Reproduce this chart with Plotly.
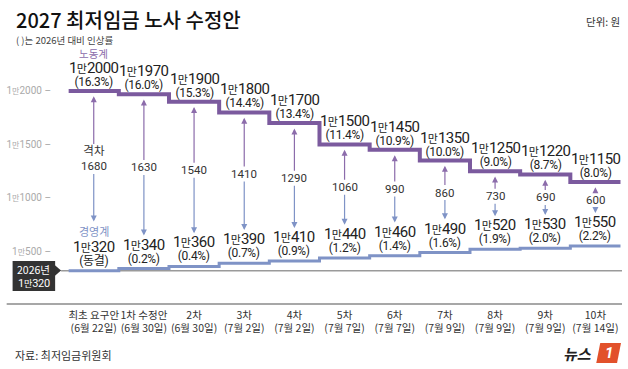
import plotly.graph_objects as go

# ---------------- data ----------------
categories = ["최초 요구안", "1차 수정안", "2차", "3차", "4차", "5차", "6차", "7차", "8차", "9차", "10차"]
dates = ["(6월 22일)", "(6월 30일)", "(6월 30일)", "(7월 2일)", "(7월 2일)", "(7월 7일)",
         "(7월 7일)", "(7월 9일)", "(7월 9일)", "(7월 9일)", "(7월 14일)"]
labor = [12000, 11970, 11900, 11800, 11700, 11500, 11450, 11350, 11250, 11220, 11150]
labor_pct = ["16.3%", "16.0%", "15.3%", "14.4%", "13.4%", "11.4%", "10.9%", "10.0%", "9.0%", "8.7%", "8.0%"]
mgmt = [10320, 10340, 10360, 10390, 10410, 10440, 10460, 10490, 10520, 10530, 10550]
mgmt_pct = ["동결", "0.2%", "0.4%", "0.7%", "0.9%", "1.2%", "1.4%", "1.6%", "1.9%", "2.0%", "2.2%"]
base_2026 = 10320
ytick_vals = [10500, 11000, 11500, 12000]

# ---------------- style ----------------
W, H = 628, 369
ML, MR, MT, MB = 62, 6, 50, 65
PW, PH = W - ML - MR, H - MT - MB
PURPLE = "#7b5a9e"
PURPLE_L = "#8c6cab"
BLUE = "#7f93c6"
TXT = "#222222"
KR = "Noto Sans CJK KR"
NUM = "Roboto, Noto Sans CJK KR"


def px(x):
    return (x - ML) / PW


def py(y):
    return (H - MB - y) / PH


def man(v, big=15, small=11, ls=-0.6):
    rest = str(v - 10000)
    st = f"font-size:{big}px;letter-spacing:{ls}px"
    return (f"<span style='{st}'>1</span>"
            f"<span style='font-size:{small}px'>만</span>"
            f"<span style='{st}'>{rest}</span>")


def pct(s, size=12):
    return f"<span style='font-size:{size}px;letter-spacing:-0.3px'>({s})</span>"


n = len(categories)
xs_step = [i - 0.5 for i in range(n + 1)]

fig = go.Figure()
fig.add_trace(go.Scatter(x=xs_step, y=mgmt + [mgmt[-1]], mode="lines", line_shape="hv",
                         line=dict(color=BLUE, width=3), hoverinfo="skip", showlegend=False))
fig.add_trace(go.Scatter(x=xs_step, y=labor + [labor[-1]], mode="lines", line_shape="hv",
                         line=dict(color=PURPLE, width=4), hoverinfo="skip", showlegend=False))

ann = []
for i in range(n):
    # labor label
    ann.append(dict(x=i, y=labor[i], xref="x", yref="y", yanchor="bottom", yshift=0,
                    showarrow=False, font=dict(family=NUM, size=10.3, color=TXT),
                    text=man(labor[i]) + "<br>" + pct(labor_pct[i])))
    # management label
    ann.append(dict(x=i, y=mgmt[i], xref="x", yref="y", yanchor="bottom", yshift=1,
                    showarrow=False, font=dict(family=NUM, size=10.3, color=TXT),
                    text=man(mgmt[i]) + "<br>" + pct(mgmt_pct[i])))
    # gap arrows
    gap = labor[i] - mgmt[i]
    gtxt = ("격차<br>" if i == 0 else "") + str(gap)
    up_head = labor[i] - 50
    low_head = mgmt[i] + (460 if i == 0 else 310)
    mid = (up_head + low_head) / 2
    for head, col, fc in ((up_head, PURPLE_L, "#333333"), (low_head, BLUE, "rgba(0,0,0,0)")):
        ann.append(dict(x=i, y=head, ax=i, ay=mid, xref="x", yref="y", axref="x", ayref="y",
                        showarrow=True, arrowhead=2, arrowsize=1, arrowwidth=1.2, arrowcolor=col,
                        text=gtxt, font=dict(family=NUM, size=11.5, color=fc), standoff=0,
                        startstandoff=0, borderpad=0))

# series names above first category
ann.append(dict(x=0, y=labor[0], xref="x", yref="y", yanchor="middle", yshift=37,
                showarrow=False, text="노동계", font=dict(family=KR, size=10.5, color=PURPLE_L)))
ann.append(dict(x=0, y=mgmt[0], xref="x", yref="y", yanchor="middle", yshift=40,
                showarrow=False, text="경영계", font=dict(family=KR, size=11, color=BLUE)))

# titles & notes
ann.append(dict(x=px(7), y=py(20), xref="paper", yref="paper", xanchor="left", yanchor="middle",
                showarrow=False, text="2027 최저임금 노사 수정안",
                font=dict(family=KR, size=20, color="#111111", weight=500)))
ann.append(dict(x=px(7), y=py(40), xref="paper", yref="paper", xanchor="left", yanchor="middle",
                showarrow=False, text="( )는 2026년 대비 인상률",
                font=dict(family=KR, size=9.5, color="#444444")))
ann.append(dict(x=px(622), y=py(22), xref="paper", yref="paper", xanchor="right", yanchor="middle",
                showarrow=False, text="단위: 원",
                font=dict(family=KR, size=10.5, color="#333333")))
ann.append(dict(x=px(6), y=py(355), xref="paper", yref="paper", xanchor="left", yanchor="middle",
                showarrow=False, text="자료: 최저임금위원회",
                font=dict(family=KR, size=11, color="#333333")))
# 2026 label (two separate lines)
ann.append(dict(x=px(27.5), y=py(269), xref="paper", yref="paper", xanchor="center", yanchor="middle",
                showarrow=False, text="2026년", borderpad=0,
                font=dict(family=KR, size=10.5, color="white")))
ann.append(dict(x=px(27.5), y=py(283), xref="paper", yref="paper", xanchor="center", yanchor="middle",
                showarrow=False, text=man(base_2026, 11, 9, -0.3), borderpad=0,
                font=dict(family=NUM, size=10, color="white")))
# logo
ann.append(dict(x=px(594), y=py(353), xref="paper", yref="paper", xanchor="right", yanchor="middle",
                showarrow=False, text="<b><i>뉴스</i></b>",
                font=dict(family=KR, size=15, color="#222222")))
ann.append(dict(x=px(609), y=py(353), xref="paper", yref="paper", xanchor="center", yanchor="middle",
                showarrow=False, text="<b><i>1</i></b>",
                font=dict(family="Roboto", size=15, color="white")))

shapes = [
    # grey 2026 baseline
    dict(type="line", xref="paper", yref="y", x0=px(55), x1=1, y0=base_2026, y1=base_2026,
         line=dict(color="#9a9a9a", width=1.5), layer="below"),
    # bottom rule
    dict(type="line", xref="paper", yref="paper", x0=px(0), x1=1, y0=0, y1=0,
         line=dict(color="#8a8a8a", width=1.5)),
    # dark label box
    dict(type="rect", xref="paper", yref="paper", x0=px(6), x1=px(49), y0=py(291), y1=py(261),
         fillcolor="#333333", line=dict(width=0)),
    dict(type="path", xref="paper", yref="paper",
         path=f"M {px(48.5)} {py(265)} L {px(55)} {py(270.5)} L {px(48.5)} {py(276)} Z",
         fillcolor="#333333", line=dict(width=0)),
    # logo box
    dict(type="path", xref="paper", yref="paper",
         path=f"M {px(600)} {py(343)} L {px(621)} {py(343)} L {px(617)} {py(363)} L {px(596)} {py(363)} Z",
         fillcolor="#e2512b", line=dict(width=0)),
]

fig.update_layout(
    width=W, height=H, margin=dict(l=ML, r=MR, t=MT, b=MB),
    paper_bgcolor="white", plot_bgcolor="white",
    annotations=ann, shapes=shapes, showlegend=False,
    xaxis=dict(range=[-0.513, 10.53], tickmode="array", tickvals=list(range(n)),
               ticktext=[f"{c}<br>{d}" for c, d in zip(categories, dates)],
               showgrid=False, zeroline=False, showline=False, ticks="", tickangle=0,
               ticklabelstandoff=3,
               tickfont=dict(family=KR, size=10.5, color="#333333"), fixedrange=True),
    yaxis=dict(range=[10009, 12383], tickmode="array", tickvals=ytick_vals,
               ticktext=[man(v, 10, 8, 0) + " –" for v in ytick_vals],
               showgrid=False, zeroline=False, showline=False, ticks="",
               tickfont=dict(family=NUM, size=10, color="#aaaaaa"), ticklabelstandoff=16,
               fixedrange=True),
)

fig.write_html("out.html")
